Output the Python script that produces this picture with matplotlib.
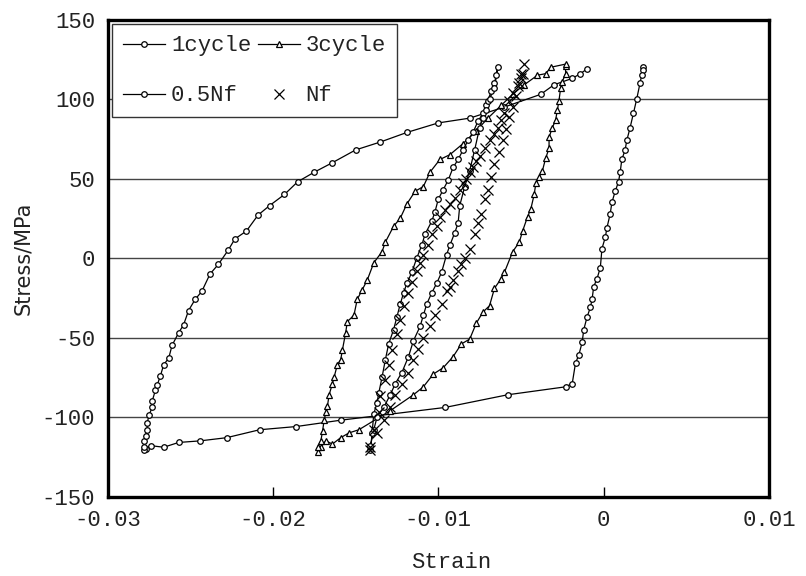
import matplotlib
matplotlib.use("Agg")
import matplotlib.pyplot as plt

plt.rcParams["axes.unicode_minus"] = False

# ---- data (strain, stress in MPa) ----
# 1st cycle: unloading from tension peak, compressive branch, reloading
cyc1_strain = [0.0024, 0.0024, 0.0023, 0.0022, 0.0020, 0.0018, 0.0016, 0.0014,
               0.0013, 0.0011, 0.0010, 0.0009, 0.0007, 0.0005, 0.0004, 0.0002,
               0.0001, -0.0001, -0.0002, -0.0004, -0.0006, -0.0007, -0.0008,
               -0.0010, -0.0012, -0.0013, -0.0015, -0.0017, -0.0019, -0.0023,
               -0.0058, -0.0096, -0.0159, -0.0186, -0.0208, -0.0228, -0.0244,
               -0.0257, -0.0266, -0.0274, -0.0277, -0.0278,
               -0.0278, -0.0278, -0.0277, -0.0276, -0.0276, -0.0275, -0.0273,
               -0.0273, -0.0271, -0.0270, -0.0268, -0.0266, -0.0263, -0.0261,
               -0.0257, -0.0254, -0.0251, -0.0247, -0.0243, -0.0238, -0.0233,
               -0.0227, -0.0223, -0.0216, -0.0209, -0.0202, -0.0193, -0.0185,
               -0.0175, -0.0164, -0.0150, -0.0135, -0.0119, -0.0100, -0.0081,
               -0.0060, -0.0038, -0.0030, -0.0019, -0.0014, -0.0010]
cyc1_stress = [120, 118, 115, 110, 100, 91, 82, 74,
               68, 62, 54, 48, 42, 35, 28, 19,
               13, 6, -6, -13, -18, -26, -31,
               -37, -45, -53, -61, -66, -79, -81,
               -86, -94, -102, -106, -108, -113, -115,
               -116, -119, -118, -120, -121,
               -119, -115, -112, -108, -104, -99, -94,
               -90, -83, -80, -74, -67, -63, -55,
               -47, -42, -33, -26, -21, -10, -4,
               5, 12, 17, 27, 33, 40, 48,
               54, 60, 68, 73, 79, 85, 88,
               95, 103, 109, 113, 116, 119]

# 3rd cycle
cyc3_strain = [-0.0023, -0.0023, -0.0025, -0.0026, -0.0027, -0.0028, -0.0029,
               -0.0031, -0.0033, -0.0033, -0.0035, -0.0037, -0.0039, -0.0041,
               -0.0042, -0.0044, -0.0046, -0.0049, -0.0051, -0.0055, -0.0060,
               -0.0062, -0.0066, -0.0069, -0.0073, -0.0077, -0.0081, -0.0086,
               -0.0091, -0.0097, -0.0103, -0.0109, -0.0115, -0.0129, -0.0148,
               -0.0154, -0.0159, -0.0164, -0.0168, -0.0171, -0.0173,
               -0.0173, -0.0171, -0.0170, -0.0169, -0.0168, -0.0167, -0.0166,
               -0.0164, -0.0163, -0.0161, -0.0159, -0.0158, -0.0156, -0.0155,
               -0.0151, -0.0149, -0.0146, -0.0143, -0.0139, -0.0134, -0.0132,
               -0.0127, -0.0123, -0.0119, -0.0114, -0.0109, -0.0105, -0.0099,
               -0.0093, -0.0085, -0.0077, -0.0070, -0.0062, -0.0055, -0.0048,
               -0.0040, -0.0035, -0.0032, -0.0023]
cyc3_stress = [121, 116, 111, 107, 99, 93, 87,
               82, 76, 69, 63, 55, 51, 47,
               40, 31, 26, 17, 10, 4, -9,
               -13, -19, -30, -34, -41, -51, -54,
               -62, -69, -73, -81, -86, -96, -108,
               -110, -113, -117, -115, -119, -122,
               -119, -115, -109, -102, -97, -93, -86,
               -79, -75, -67, -64, -58, -47, -40,
               -36, -26, -20, -14, -3, 4, 10,
               20, 25, 34, 42, 45, 54, 62,
               65, 72, 80, 88, 96, 103, 109,
               115, 116, 120, 122]

# 0.5 Nf cycle
half_strain = [-0.0141, -0.0140, -0.0139, -0.0137, -0.0136, -0.0134, -0.0132,
               -0.0130, -0.0127, -0.0125, -0.0123, -0.0121, -0.0119, -0.0116,
               -0.0113, -0.0110, -0.0108, -0.0104, -0.0102, -0.0100,
               -0.0097, -0.0094, -0.0091, -0.0088, -0.0085, -0.0082, -0.0079,
               -0.0076, -0.0073, -0.0071, -0.0070, -0.0068, -0.0066, -0.0065,
               -0.0064,
               -0.0066, -0.0069, -0.0071, -0.0073, -0.0075, -0.0078, -0.0081,
               -0.0084, -0.0087, -0.0088, -0.0090, -0.0093, -0.0095, -0.0098,
               -0.0101, -0.0104, -0.0107, -0.0109, -0.0111, -0.0115, -0.0118,
               -0.0122, -0.0126, -0.0129, -0.0133, -0.0137, -0.0139, -0.0141]
half_stress = [-121, -110, -98, -91, -85, -75, -64,
               -54, -45, -37, -29, -22, -16, -9,
               0, 8, 15, 23, 29, 37,
               43, 49, 57, 62, 68, 74, 79,
               86, 91, 96, 99, 105, 110, 115,
               120,
               107, 100, 93, 88, 82, 68, 55,
               45, 33, 22, 16, 8, 2, -9,
               -16, -22, -29, -36, -43, -52, -62,
               -72, -79, -86, -94, -100, -108, -118]

# Nf cycle (markers only)
nf_strain = [-0.0141, -0.0139, -0.0136, -0.0135, -0.0132, -0.0130, -0.0128,
             -0.0125, -0.0123, -0.0121, -0.0118, -0.0116, -0.0113, -0.0111,
             -0.0109, -0.0106, -0.0104, -0.0101, -0.0099, -0.0096, -0.0093,
             -0.0090, -0.0087, -0.0085, -0.0083, -0.0081, -0.0079, -0.0077,
             -0.0075, -0.0072, -0.0069, -0.0066, -0.0064, -0.0062,
             -0.0060, -0.0057, -0.0055, -0.0052, -0.0050, -0.0049, -0.0048,
             -0.0050, -0.0051, -0.0053, -0.0055, -0.0057, -0.0059, -0.0061,
             -0.0063, -0.0066, -0.0068, -0.0070, -0.0072, -0.0074, -0.0076,
             -0.0078, -0.0081, -0.0084, -0.0086, -0.0088, -0.0091, -0.0093,
             -0.0095, -0.0098, -0.0102, -0.0105, -0.0109, -0.0112, -0.0115,
             -0.0118, -0.0122, -0.0126, -0.0129, -0.0133, -0.0137, -0.0141]
nf_stress = [-121, -108, -97, -87, -77, -67, -58,
             -48, -39, -30, -22, -15, -8, -3,
             2, 8, 15, 20, 26, 30, 34,
             38, 43, 47, 50, 54, 57, 61,
             64, 69, 74, 78, 82, 87,
             91, 99, 104, 108, 113, 116, 122,
             116, 110, 102, 95, 89, 81, 74,
             67, 59, 51, 43, 37, 28, 22,
             15, 6, 0, -4, -8, -14, -18,
             -21, -29, -36, -43, -50, -57, -64,
             -72, -79, -86, -94, -102, -110, -119]

x_ticks = [-0.03, -0.02, -0.01, 0, 0.01]
x_tick_labels = ["-0.03", "-0.02", "-0.01", "0", "0.01"]
y_ticks = [-150, -100, -50, 0, 50, 100, 150]

mono = "Liberation Mono"
txt = "#222222"

fig = plt.figure(figsize=(8.06, 5.76), dpi=100)
ax = fig.add_axes([0.1334, 0.138, 0.9541 - 0.1334, 0.966 - 0.138])

ax.plot(cyc1_strain, cyc1_stress, color="black", lw=0.9, marker="o",
        ms=4, mfc="white", mec="black", mew=0.9, label="1cycle", zorder=3)
ax.plot(cyc3_strain, cyc3_stress, color="black", lw=0.9, marker="^",
        ms=5, mfc="white", mec="black", mew=0.9, label="3cycle", zorder=3)
ax.plot(half_strain, half_stress, color="black", lw=0.9, marker="o",
        ms=4, mfc="white", mec="black", mew=0.9, label="0.5Nf", zorder=3)
ax.plot(nf_strain, nf_stress, linestyle="none", color="black", marker="x",
        ms=6.5, mew=0.9, label="Nf", zorder=3)

ax.set_xlim(-0.03, 0.01)
ax.set_ylim(-150, 150)
ax.set_xticks(x_ticks)
ax.set_xticklabels(x_tick_labels)
ax.set_yticks(y_ticks)

for lab in ax.get_xticklabels() + ax.get_yticklabels():
    lab.set_fontfamily(mono)
    lab.set_fontsize(16)
    lab.set_color(txt)

ax.tick_params(axis="x", direction="in", length=7, width=1, pad=10,
               top=False, colors="black", labelcolor=txt)
ax.tick_params(axis="y", length=0, pad=9, labelcolor=txt)

ax.yaxis.grid(True, color="#444444", lw=1)
ax.set_axisbelow(True)

for sp in ax.spines.values():
    sp.set_linewidth(2.4)
    sp.set_color("black")

ax.set_xlabel("Strain", fontfamily=mono, fontsize=16, color=txt,
              labelpad=15, x=0.52)
ax.set_ylabel("Stress/MPa", fontfamily="DejaVu Sans", fontsize=15,
              color=txt, labelpad=6)

handles, labels = ax.get_legend_handles_labels()
# order so that rows read: 1cycle 3cycle / 0.5Nf Nf
order = [0, 2, 1, 3]
leg = ax.legend([handles[i] for i in order], [labels[i] for i in order],
                ncol=2, loc="upper left", bbox_to_anchor=(0.007, 0.99),
                borderaxespad=0, fancybox=False, framealpha=1,
                edgecolor="#333333", handlelength=1.9, handletextpad=0.25,
                columnspacing=0.3, labelspacing=1.3, borderpad=0.5,
                prop={"family": mono, "size": 16})
leg.get_frame().set_linewidth(1.0)
for t in leg.get_texts():
    t.set_color(txt)

fig.savefig("out.png", dpi=100)
